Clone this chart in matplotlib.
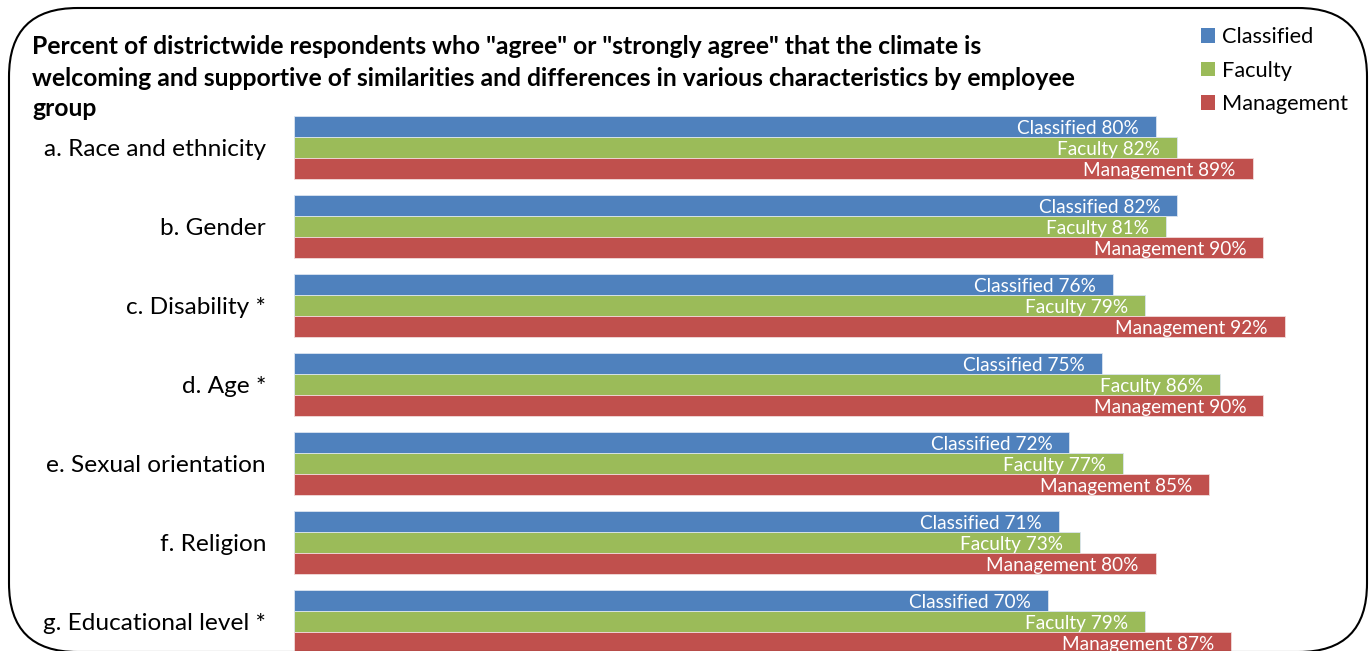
import matplotlib
matplotlib.use("Agg")
import matplotlib.pyplot as plt
from matplotlib.patches import FancyBboxPatch, Patch

categories = ["a. Race and ethnicity", "b. Gender", "c. Disability *", "d. Age *",
              "e. Sexual orientation", "f. Religion", "g. Educational level *"]
series_names = ["Classified", "Faculty", "Management"]
classified = [80, 82, 76, 75, 72, 71, 70]
faculty = [82, 81, 79, 86, 77, 73, 79]
management = [89, 90, 92, 90, 85, 80, 87]
colors = ["#4F81BD", "#9BBB59", "#C0504D"]
title_lines = ['Percent of districtwide respondents who "agree" or "strongly agree" that the climate is',
               'welcoming and supportive of similarities and differences in various characteristics by employee',
               'group']

plt.rcParams['font.family'] = ['Lato', 'DejaVu Sans']

W, H = 1371, 651
fig = plt.figure(figsize=(W / 100, H / 100), dpi=100)

# rounded border
border = FancyBboxPatch((9 / W, 1 - 652 / H), (1358) / W, (644) / H,
                        boxstyle="round,pad=0,rounding_size=0.05",
                        transform=fig.transFigure, fill=False,
                        edgecolor="black", linewidth=1.5, mutation_aspect=W / H)
fig.patches.append(border)

ax = fig.add_axes([294 / W, 0, 1 - 294 / W, 1])
spacing = 79.0
ytop = -147.5 / spacing
ybot = (H - 147.5) / spacing
ax.set_ylim(ybot, ytop)
ax.set_xlim(0, 100)

bh = 21 / spacing
data = [classified, faculty, management]
for k, (name, vals, col) in enumerate(zip(series_names, data, colors)):
    ys = [i + (k - 1) * bh for i in range(len(categories))]
    ax.barh(ys, vals, height=bh, color=col, edgecolor="#f2dcdb" if k == 2 else "#dbe5f1",
            linewidth=0.6, label=name)
    for y, v in zip(ys, vals):
        ax.annotate(f"{name} {v}%", xy=(v, y), xytext=(-17, -2), textcoords="offset pixels",
                    ha="right", va="center", color="white", fontsize=13.7)

ax.set_yticks(range(len(categories)))
ax.set_yticklabels(categories, fontsize=17.6)
ax.tick_params(axis="y", length=0, pad=28 * 0.72)
ax.set_xticks([])
for s in ax.spines.values():
    s.set_visible(False)
ax.patch.set_alpha(0)

for j, line in enumerate(title_lines):
    fig.text(32 / W, 1 - (47 + 31 * j) / H, line, fontsize=17.8, fontweight="bold",
             ha="left", va="center")

handles = [Patch(facecolor=c, edgecolor="none") for c in colors]
leg = fig.legend(handles, series_names, loc="upper left", bbox_to_anchor=(1201 / W, 1 - 27 / H),
                 frameon=False, fontsize=15.7, handlelength=0.65, handleheight=0.65,
                 handletextpad=0.3, labelspacing=0.62, borderpad=0, borderaxespad=0)

fig.savefig("out.png", dpi=100)
